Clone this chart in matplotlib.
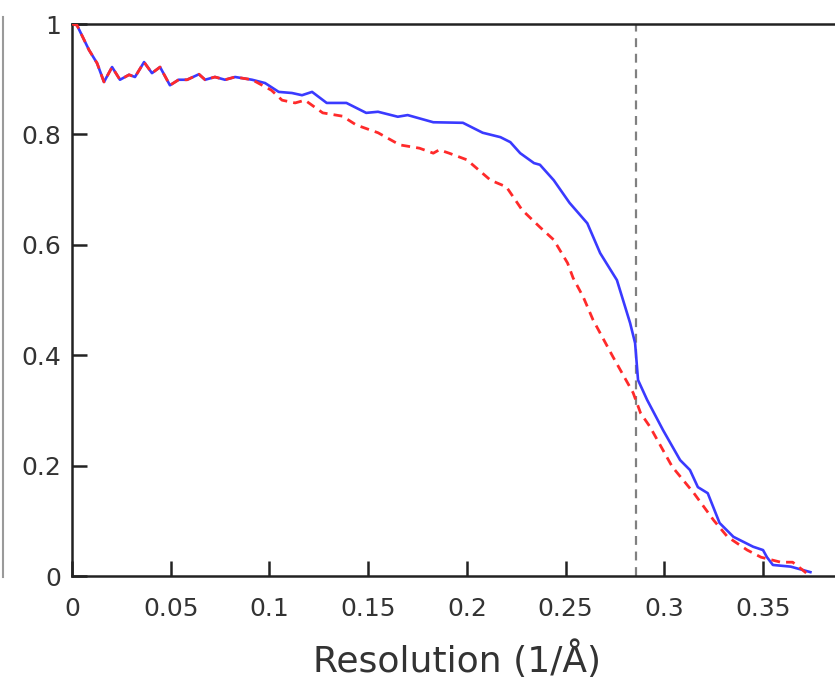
import matplotlib
matplotlib.use("Agg")
import matplotlib.pyplot as plt
from matplotlib.lines import Line2D

# Blue (solid) curve
blue_x = [0, 0.0025, 0.0086, 0.0127, 0.0162, 0.0203, 0.0243, 0.0289, 0.0319, 0.0365,
          0.0405, 0.0446, 0.0496, 0.054, 0.0583, 0.0643, 0.0674, 0.0724, 0.0775, 0.0826,
          0.0912, 0.0978, 0.1047, 0.1114, 0.1165, 0.1216, 0.129, 0.139, 0.149, 0.155,
          0.165, 0.170, 0.183, 0.198, 0.208, 0.217, 0.222, 0.227, 0.234, 0.237,
          0.244, 0.252, 0.261, 0.2675, 0.276, 0.2827, 0.2852, 0.2867, 0.2913, 0.2994,
          0.308, 0.313, 0.317, 0.322, 0.328, 0.335, 0.345, 0.350, 0.352, 0.355,
          0.364, 0.374]
blue_y = [1.0, 0.998, 0.953, 0.929, 0.895, 0.922, 0.899, 0.908, 0.904, 0.931,
          0.911, 0.922, 0.889, 0.899, 0.899, 0.909, 0.899, 0.904, 0.899, 0.904,
          0.899, 0.893, 0.877, 0.875, 0.871, 0.877, 0.857, 0.857, 0.839, 0.841,
          0.832, 0.835, 0.822, 0.821, 0.803, 0.795, 0.786, 0.766, 0.748, 0.745,
          0.717, 0.676, 0.639, 0.585, 0.536, 0.458, 0.422, 0.355, 0.319, 0.264,
          0.210, 0.192, 0.161, 0.150, 0.096, 0.071, 0.053, 0.047, 0.034, 0.020,
          0.017, 0.007]

# Red (dashed) curve
red_x = [0, 0.0025, 0.0086, 0.0127, 0.0162, 0.0203, 0.0243, 0.0289, 0.0319, 0.0365,
         0.0405, 0.0446, 0.0496, 0.054, 0.0583, 0.0643, 0.0674, 0.0724, 0.0775, 0.0826,
         0.0912, 0.101, 0.1064, 0.113, 0.118, 0.127, 0.137, 0.144, 0.155, 0.166,
         0.176, 0.183, 0.186, 0.191, 0.200, 0.212, 0.220, 0.228, 0.237, 0.244,
         0.251, 0.2538, 0.259, 0.2639, 0.274, 0.2842, 0.288, 0.2928, 0.304, 0.315,
         0.325, 0.332, 0.342, 0.349, 0.359, 0.365, 0.370, 0.373]
red_y = [1.0, 0.998, 0.953, 0.929, 0.895, 0.922, 0.899, 0.908, 0.904, 0.931,
         0.911, 0.922, 0.889, 0.899, 0.899, 0.909, 0.899, 0.904, 0.899, 0.904,
         0.899, 0.880, 0.862, 0.857, 0.862, 0.839, 0.833, 0.817, 0.803, 0.781,
         0.775, 0.766, 0.772, 0.766, 0.754, 0.717, 0.705, 0.663, 0.632, 0.609,
         0.567, 0.540, 0.505, 0.464, 0.397, 0.332, 0.295, 0.270, 0.198, 0.150,
         0.101, 0.071, 0.047, 0.034, 0.025, 0.025, 0.011, 0.002]

cutoff = 0.2856
xticks = [0, 0.05, 0.1, 0.15, 0.2, 0.25, 0.3, 0.35]
xticklabels = ["0", "0.05", "0.1", "0.15", "0.2", "0.25", "0.3", "0.35"]
yticks = [0, 0.2, 0.4, 0.6, 0.8, 1.0]
yticklabels = ["0", "0.2", "0.4", "0.6", "0.8", "1"]

plt.rcParams['font.family'] = ['DejaVu Sans']

fig = plt.figure(figsize=(8.35, 6.8), dpi=100)
ax = fig.add_axes([72 / 835, 104 / 680, (842 - 72) / 835, (576 - 24) / 680])

ax.axvline(cutoff, color='#808080', lw=1.6, linestyle=(0, (4, 3)), zorder=1)
ax.plot(blue_x, blue_y, color='#3a3aff', lw=1.9, zorder=2)
ax.plot(red_x, red_y, color='#ff2a2a', lw=2.0, linestyle=(0, (3.2, 2.2)), zorder=3)

ax.set_xlim(0, 0.39)
ax.set_ylim(0, 1)
ax.set_xticks(xticks)
ax.set_xticklabels(xticklabels)
ax.set_yticks(yticks)
ax.set_yticklabels(yticklabels)

for s in ['left', 'bottom', 'top']:
    ax.spines[s].set_linewidth(1.8)
    ax.spines[s].set_color('#222222')
ax.spines['right'].set_visible(False)

ax.tick_params(axis='both', direction='in', length=11, width=1.8, color='#222222',
               labelsize=18, labelcolor='#333333')
ax.tick_params(axis='x', pad=15)
ax.tick_params(axis='y', pad=8)
ax.tick_params(top=False, right=False)

ax.set_xlabel("Resolution (1/Å)", fontsize=26, color='#333333', labelpad=14)

fig.add_artist(Line2D([0.003, 0.003], [104 / 680 - 0.002, 0.975], color='#9a9a9a',
                      lw=1.5, transform=fig.transFigure))

fig.savefig("out.png", dpi=100)
